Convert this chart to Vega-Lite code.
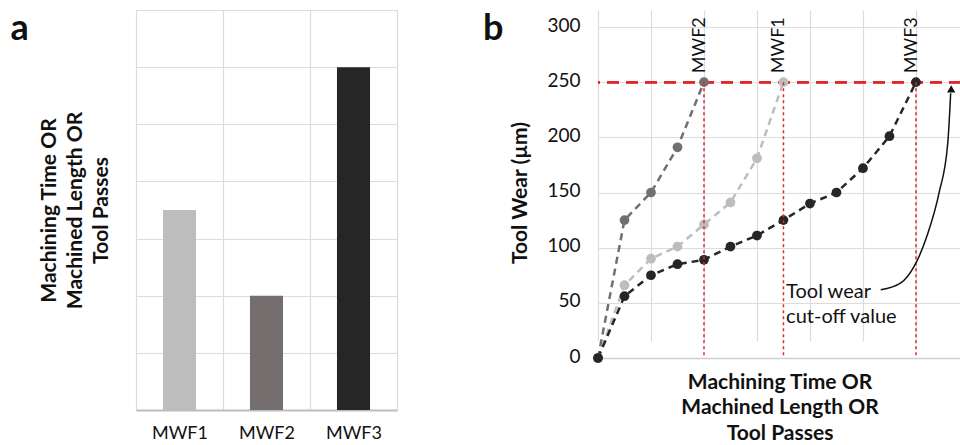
{
  "$schema": "https://vega.github.io/schema/vega-lite/v6.json",
  "padding": {"left": 10, "top": 10, "right": 0, "bottom": 0},
  "background": "white",
  "config": {"font": "Lato", "view": {"stroke": null}},
  "datasets": {
    "bars": [
      {"fluid": "MWF1", "value": 3.5},
      {"fluid": "MWF2", "value": 2},
      {"fluid": "MWF3", "value": 6}
    ],
    "wear": [
      {"fluid": "MWF1", "passes": 0, "wear": 0},
      {"fluid": "MWF1", "passes": 1, "wear": 66},
      {"fluid": "MWF1", "passes": 2, "wear": 90},
      {"fluid": "MWF1", "passes": 3, "wear": 101},
      {"fluid": "MWF1", "passes": 4, "wear": 121},
      {"fluid": "MWF1", "passes": 5, "wear": 141},
      {"fluid": "MWF1", "passes": 6, "wear": 181},
      {"fluid": "MWF1", "passes": 7, "wear": 250},
      {"fluid": "MWF2", "passes": 0, "wear": 0},
      {"fluid": "MWF2", "passes": 1, "wear": 125},
      {"fluid": "MWF2", "passes": 2, "wear": 150},
      {"fluid": "MWF2", "passes": 3, "wear": 191},
      {"fluid": "MWF2", "passes": 4, "wear": 250},
      {"fluid": "MWF3", "passes": 0, "wear": 0},
      {"fluid": "MWF3", "passes": 1, "wear": 56},
      {"fluid": "MWF3", "passes": 2, "wear": 75},
      {"fluid": "MWF3", "passes": 3, "wear": 85},
      {"fluid": "MWF3", "passes": 4, "wear": 89},
      {"fluid": "MWF3", "passes": 5, "wear": 101},
      {"fluid": "MWF3", "passes": 6, "wear": 111},
      {"fluid": "MWF3", "passes": 7, "wear": 125},
      {"fluid": "MWF3", "passes": 8, "wear": 140},
      {"fluid": "MWF3", "passes": 9, "wear": 150},
      {"fluid": "MWF3", "passes": 10, "wear": 172},
      {"fluid": "MWF3", "passes": 11, "wear": 201},
      {"fluid": "MWF3", "passes": 12, "wear": 250}
    ],
    "cutoff": [
      {"fluid": "MWF2", "passes": 4, "wear": 250},
      {"fluid": "MWF1", "passes": 7, "wear": 250},
      {"fluid": "MWF3", "passes": 12, "wear": 250}
    ],
    "note": [
      {"passes": 7.1, "wear": 54.8, "label": "Tool wear\ncut-off value"}
    ],
    "arrow": [
      {"passes": 10.67, "wear": 61.8},
      {"passes": 11.43, "wear": 68},
      {"passes": 11.92, "wear": 82.5},
      {"passes": 12.45, "wear": 113},
      {"passes": 12.87, "wear": 149.5},
      {"passes": 13.2, "wear": 194.6},
      {"passes": 13.31, "wear": 240}
    ],
    "arrowhead": [
      {"passes": 13.33, "wear": 244}
    ]
  },
  "hconcat": [
    {
      "width": 261,
      "height": 400,
      "title": {"text": "a", "orient": "left", "anchor": "end", "angle": 0, "baseline": "top", "fontSize": 36, "fontWeight": "bold", "color": "#111", "offset": -9, "dy": 2},
      "data": {"name": "bars"},
      "mark": {"type": "bar", "width": {"band": 0.38}},
      "encoding": {
        "x": {
          "field": "fluid", "type": "nominal",
          "scale": {"paddingInner": 0, "paddingOuter": 0},
          "axis": {"title": null, "tickBand": "extent", "grid": true, "gridColor": "#dcdcdc", "gridWidth": 1.2, "ticks": false, "labelAngle": 0, "labelPadding": 14, "labelFontSize": 18, "labelColor": "#111", "domainColor": "#bdbdbd", "domainWidth": 2}
        },
        "y": {
          "field": "value", "type": "quantitative",
          "scale": {"domain": [0, 7], "nice": false},
          "axis": {"values": [0, 1, 2, 3, 4, 5, 6, 7], "labels": false, "ticks": false, "domain": false, "grid": true, "gridColor": "#dcdcdc", "gridWidth": 1.2,
            "title": ["Machining Time OR", "Machined Length OR", "Tool Passes"], "titleFontSize": 21, "titleFontWeight": "bold", "titleColor": "#111", "titleLineHeight": 26, "titlePadding": 25}
        },
        "color": {
          "field": "fluid", "type": "nominal",
          "scale": {"domain": ["MWF1", "MWF2", "MWF3"], "range": ["#bdbdbd", "#746e6e", "#262626"]},
          "legend": null
        }
      }
    },
    {
      "width": 363,
      "height": 348,
      "title": {"text": "b", "orient": "left", "anchor": "end", "angle": 0, "baseline": "top", "fontSize": 36, "fontWeight": "bold", "color": "#111", "offset": -14, "dy": 2},
      "layer": [
        {
          "data": {"name": "cutoff"},
          "mark": {"type": "rule", "color": "#e3262b", "strokeWidth": 2.5, "strokeDash": [12, 7]},
          "encoding": {"y": {"field": "wear", "type": "quantitative"}}
        },
        {
          "data": {"name": "wear"},
          "mark": {"type": "line", "strokeWidth": 2.5, "strokeDash": [7, 5]},
          "encoding": {
            "x": {
              "field": "passes", "type": "quantitative",
              "scale": {"domain": [0, 13.7], "nice": false, "zero": false},
              "axis": {"title": ["Machining Time OR", "Machined Length OR", "Tool Passes"], "titleFontSize": 21, "titleFontWeight": "bold", "titleColor": "#111", "titleLineHeight": 25.5, "titlePadding": 13,
                "values": [0, 2, 4, 6, 8, 10, 12], "labels": false, "ticks": false, "grid": true, "gridColor": "#dcdcdc", "gridWidth": 1.2, "domainColor": "#cfcfcf", "domainWidth": 1.5}
            },
            "y": {
              "field": "wear", "type": "quantitative",
              "scale": {"domain": [0, 300], "nice": false, "range": [348, 17]},
              "axis": {"title": "Tool Wear (µm)", "titleFontSize": 21, "titleFontWeight": "bold", "titleColor": "#111", "titlePadding": 16,
                "values": [0, 50, 100, 150, 200, 250, 300], "ticks": false, "domain": false, "labelPadding": 18, "labelFontSize": 19, "labelColor": "#111", "labelOffset": -2,
                "grid": true, "gridColor": "#dcdcdc", "gridWidth": 1.2}
            },
            "color": {
              "field": "fluid", "type": "nominal",
              "scale": {"domain": ["MWF1", "MWF2", "MWF3"], "range": ["#c2c2c2", "#6e6e6e", "#262626"]},
              "legend": null
            }
          }
        },
        {
          "data": {"name": "wear"},
          "mark": {"type": "point", "filled": true, "size": 95, "opacity": 1},
          "encoding": {
            "x": {"field": "passes", "type": "quantitative"},
            "y": {"field": "wear", "type": "quantitative"},
            "color": {"field": "fluid", "type": "nominal", "legend": null}
          }
        },
        {
          "data": {"name": "cutoff"},
          "mark": {"type": "rule", "color": "#e3262b", "strokeWidth": 1.5, "strokeDash": [3, 3]},
          "encoding": {
            "x": {"field": "passes", "type": "quantitative"},
            "y": {"field": "wear", "type": "quantitative"},
            "y2": {"datum": 0}
          }
        },
        {
          "data": {"name": "cutoff"},
          "mark": {"type": "text", "angle": 270, "align": "left", "baseline": "alphabetic", "dx": 9, "dy": 1, "fontSize": 18, "color": "#111"},
          "encoding": {
            "x": {"field": "passes", "type": "quantitative"},
            "y": {"field": "wear", "type": "quantitative"},
            "text": {"field": "fluid"}
          }
        },
        {
          "data": {"name": "note"},
          "mark": {"type": "text", "align": "left", "baseline": "alphabetic", "fontSize": 20, "lineHeight": 25.5, "lineBreak": "\n", "color": "#111"},
          "encoding": {
            "x": {"field": "passes", "type": "quantitative"},
            "y": {"field": "wear", "type": "quantitative"},
            "text": {"field": "label"}
          }
        },
        {
          "data": {"name": "arrow"},
          "mark": {"type": "line", "color": "#111", "strokeWidth": 1.5, "interpolate": "monotone"},
          "encoding": {
            "x": {"field": "passes", "type": "quantitative"},
            "y": {"field": "wear", "type": "quantitative"}
          }
        },
        {
          "data": {"name": "arrowhead"},
          "mark": {"type": "point", "shape": "triangle-up", "filled": true, "size": 70, "color": "#111", "opacity": 1},
          "encoding": {
            "x": {"field": "passes", "type": "quantitative"},
            "y": {"field": "wear", "type": "quantitative"}
          }
        }
      ]
    }
  ],
  "spacing": 86
}
